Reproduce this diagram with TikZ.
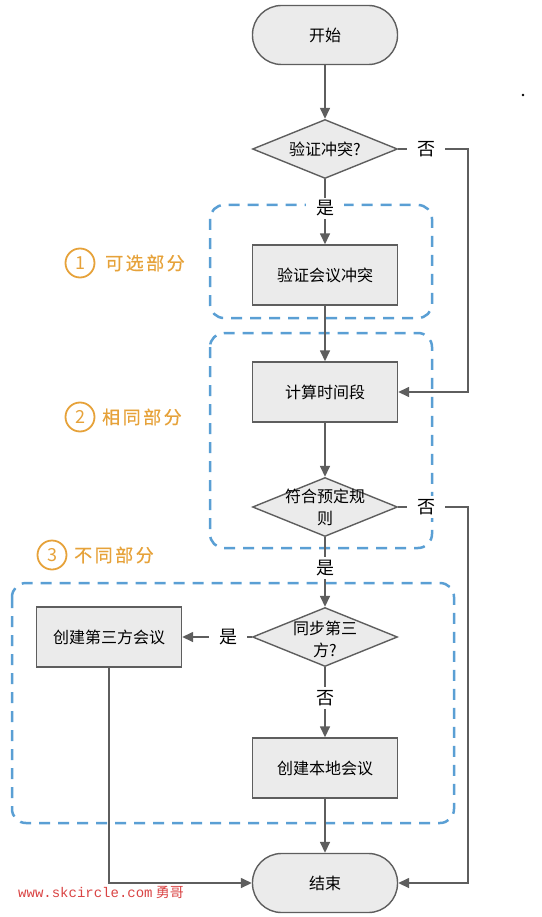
\documentclass[tikz,border=0pt]{standalone}
\usepackage{fontspec}
\setmainfont{Noto Sans CJK SC}
\newfontfamily\wmfont{Liberation Mono}
\newfontfamily\partfont[LetterSpace=14, FakeBold=0.6]{Noto Sans CJK SC}
\usepackage{xcolor}
\usetikzlibrary{arrows.meta,shapes.geometric}

\definecolor{boxfill}{HTML}{EBEBEB}
\definecolor{boxline}{HTML}{5E5E5E}
\definecolor{partblue}{HTML}{5A9FD4}
\definecolor{partorange}{HTML}{E6A23A}
\definecolor{wmred}{HTML}{D94343}

\begin{document}
\begin{tikzpicture}[x=1pt, y=-1pt,
	base/.style={draw=boxline, fill=boxfill, line width=1.4pt, font=\fontsize{16}{22}\selectfont},
	term/.style={base, rounded corners=29pt, minimum width=145pt, minimum height=59pt},
	proc/.style={base, minimum width=145pt, minimum height=60pt},
	dia/.style={base, diamond, inner sep=0pt, minimum width=145pt, minimum height=59pt},
	dtext/.style={font=\fontsize{16}{22}\selectfont, align=center},
	flow/.style={draw=boxline, line width=1.5pt, -{Triangle[length=11pt,width=10pt]}},
	yn/.style={fill=white, font=\fontsize{18}{18}\selectfont, inner xsep=10pt, inner ysep=3pt},
	part/.style={draw=partblue, line width=2.5pt, dash pattern=on 11pt off 8pt, rounded corners=14pt},
	num/.style={circle, draw=partorange, line width=1.8pt, text=partorange, minimum size=29pt, inner sep=0pt, font=\fontsize{18}{18}\selectfont},
	ptext/.style={text=partorange, anchor=west, inner sep=0pt, font=\partfont\fontsize{18}{18}\selectfont}]

	\def\colx{325} % main column
	\def\turnx{468} % x of the two "no" returns

	\useasboundingbox (0,0) rectangle (541,917);

	% dashed parts
	\draw[part] (210,205) rectangle (432,318);
	\draw[part] (210,333) rectangle (432,548);
	\draw[part] (12,583) rectangle (454,823);

	% part titles
	\node[num] (c1) at (80,263) {1};
	\node[ptext] (p1) at (105,263) {可选部分};
	\node[num] (c2) at (80,417) {2};
	\node[ptext] (p2) at (102,417) {相同部分};
	\node[num] (c3) at (52,555) {3};
	\node[ptext] (p3) at (74,555) {不同部分};

	% main column
	\node[term] (start) at (\colx,35) {开始};
	\node[dia, label={[dtext]center:验证冲突?}] (chk) at (\colx,149) {};
	\node[proc] (conf) at (\colx,275) {验证会议冲突};
	\node[proc] (calc) at (\colx,392) {计算时间段};
	\node[dia, label={[dtext]center:符合预定规\\则}] (rule) at (\colx,507) {};
	\node[dia, label={[dtext, yshift=-2pt]center:同步第三\\方?}] (sync) at (\colx,637) {};
	\node[proc] (local) at (\colx,768) {创建本地会议};
	\node[term] (end) at (\colx,883) {结束};
	\node[proc] (third) at (109,637) {创建第三方会议};

	% turning points
	\coordinate (r1) at (\turnx,149);
	\coordinate (r2) at (\turnx,507);

	% connectors
	\draw[flow] (start) -- (chk);
	\draw[flow] (chk) -- node[yn, pos=0.45] (y1) {是} (conf);
	\draw[flow] (chk.east) -- node[yn, pos=0.4] (n1) {否} (r1) |- (calc);
	\draw[flow] (conf) -- (calc);
	\draw[flow] (calc) -- (rule);
	\draw[flow] (rule) -- node[yn, pos=0.44] (y2) {是} (sync);
	\draw[flow] (rule.east) -- node[yn, pos=0.4] (n2) {否} (r2) |- (end);
	\draw[flow] (sync.west) -- node[yn, pos=0.34] (y3) {是} (third.east);
	\draw[flow] (sync) -- node[yn, pos=0.44] (n3) {否} (local);
	\draw[flow] (local) -- (end);
	\draw[flow] (third) |- (end);

	% marks on the page
	\fill (523,95) circle (1.3pt);
	\node[text=wmred, anchor=west, inner sep=0pt, font=\fontsize{14}{14}\selectfont] (wm) at (18,892) {{\wmfont www.skcircle.com} 勇哥};
\end{tikzpicture}
\end{document}
